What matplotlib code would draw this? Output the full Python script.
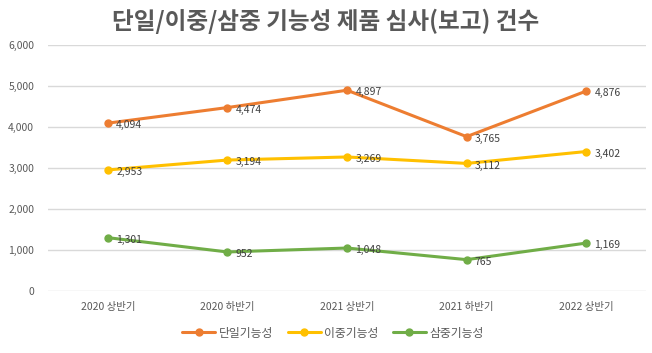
import numpy as np
import matplotlib.pyplot as plt

plt.rcParams['font.family'] = ['Noto Sans CJK KR', 'DejaVu Sans']

periods = ['2020 상반기', '2020 하반기', '2021 상반기', '2021 하반기', '2022 상반기']
single = [4094, 4474, 4897, 3765, 4876]
double = [2953, 3194, 3269, 3112, 3402]
triple = [1301, 952, 1048, 765, 1169]

series = [
    ('단일기능성', single, '#ED7D31'),
    ('이중기능성', double, '#FFC000'),
    ('삼중기능성', triple, '#70AD47'),
]

fig = plt.figure(figsize=(6.52, 3.53), dpi=100)
ax = fig.add_axes([48 / 652, 1 - 291 / 353, 598 / 652, 246 / 353])

x = np.arange(len(periods))
for name, vals, col in series:
    ax.plot(x, vals, color=col, lw=2.2, marker='o', ms=5, label=name,
            solid_capstyle='round')
    for xi, v in zip(x, vals):
        ax.annotate(f'{v:,}', (xi, v), xytext=(6, -1.5), textcoords='offset points',
                    ha='left', va='center', fontsize=7.5, color='#404040')

ax.set_xlim(-0.5, len(periods) - 0.5)
ax.set_ylim(0, 6000)
ax.set_yticks(range(0, 6001, 1000))
ax.set_yticklabels([f'{t:,}' for t in range(0, 6001, 1000)])
ax.set_xticks(x)
ax.set_xticklabels(periods)
ax.tick_params(axis='both', length=0, labelsize=7.5, colors='#595959')
ax.tick_params(axis='y', pad=10)
ax.tick_params(axis='x', pad=8)
ax.grid(axis='y', color='#D9D9D9', lw=1)
ax.set_axisbelow(True)
for s in ax.spines.values():
    s.set_visible(False)

fig.suptitle('단일/이중/삼중 기능성 제품 심사(보고) 건수', y=0.975, fontsize=17,
             fontweight='bold', color='#595959')
fig.legend(loc='center', bbox_to_anchor=(333 / 652, 1 - 333 / 353), ncol=3,
           frameon=False, fontsize=8.5, handlelength=2.8, columnspacing=1.2,
           handletextpad=0.3, labelcolor='#595959')

fig.savefig('out.png', dpi=100)
